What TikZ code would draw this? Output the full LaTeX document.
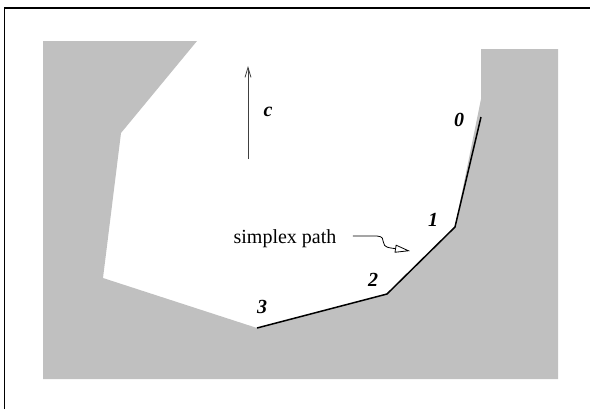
\documentclass[tikz,border=0pt]{standalone}
\usepackage{fontspec}
\setmainfont{Liberation Serif}
\usetikzlibrary{arrows.meta}
\definecolor{region}{HTML}{C0C0C0}

\begin{document}
\begin{tikzpicture}[
    x=0.5pt, y=-0.5pt,
    vlabel/.style={font=\fontsize{10}{12}\selectfont\bfseries\itshape, inner sep=0pt},
    pathline/.style={black, line width=0.75pt},
    pointer/.style={black, line width=0.4pt, -{Triangle[open, length=7.5pt, width=4pt]}},
]
\useasboundingbox (0,0) rectangle (590,409);

% =============================================
% Frame (left and top edges only)
% =============================================
\draw[line width=0.6pt] (4.5,409) |- (590,8);

% =============================================
% Grey region round the feasible set
% =============================================
\fill[region] (43,41) -- (197,41) -- (121,133) -- (103,278) -- (257,328)
    -- (387,294) -- (455,227) -- (481,99) -- (481,49) -- (558,49)
    -- (558,379) -- (43,379) -- cycle;

% =============================================
% Simplex path and its vertices
% =============================================
\coordinate (v0) at (481,117);
\coordinate (v1) at (455,227);
\coordinate (v2) at (387,294);
\coordinate (v3) at (257,328);
\draw[pathline, line join=miter] (v0) -- (v1) -- (v2) -- (v3);

\node[vlabel] (l0) at (459,120) {0};
\node[vlabel] (l1) at (433,220) {1};
\node[vlabel] (l2) at (373,280) {2};
\node[vlabel] (l3) at (262,307) {3};

% =============================================
% Objective direction c
% =============================================
\coordinate (cfoot) at (248,159);
\coordinate (chead) at (248,66);
\draw[black!75, line width=0.4pt, -{Straight Barb[length=5pt, width=3pt]}] (cfoot) -- (chead);
\node[vlabel] (clabel) at (268,112) {c};

% =============================================
% Label pointing at the path
% =============================================
\node[font=\fontsize{10}{12}\selectfont, inner sep=1pt] (simplex) at (285,239) {simplex path};
\coordinate (ptip) at (410,251);
\draw[pointer] (simplex.east) ++(14,-3) -- (377,236)
    .. controls (389,237) and (377,246) .. (391,248) -- (ptip);

\end{tikzpicture}
\end{document}
